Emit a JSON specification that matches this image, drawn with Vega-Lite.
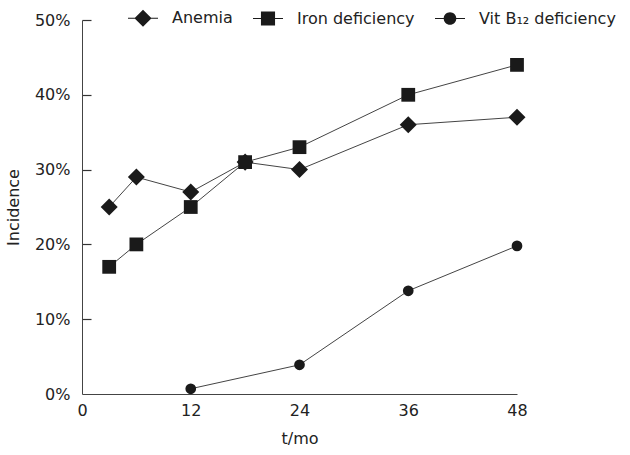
{
  "$schema": "https://vega.github.io/schema/vega-lite/v6.json",
  "width": 435,
  "height": 374,
  "autosize": {"type": "none"},
  "padding": {"left": 82, "top": 20, "right": 113, "bottom": 61},
  "background": "white",
  "config": {
    "view": {"stroke": null},
    "font": "DejaVu Sans",
    "axis": {"grid": false, "labelFont": "DejaVu Sans", "titleFont": "DejaVu Sans", "labelFontSize": 16, "titleFontSize": 16, "titleFontWeight": "normal", "labelColor": "#222", "titleColor": "#222", "domainColor": "#444", "tickColor": "#333", "tickWidth": 1}
  },
  "data": {
    "values": [
      {"series": "Anemia", "t": 3, "v": 0.25},
      {"series": "Anemia", "t": 6, "v": 0.29},
      {"series": "Anemia", "t": 12, "v": 0.27},
      {"series": "Anemia", "t": 18, "v": 0.31},
      {"series": "Anemia", "t": 24, "v": 0.30},
      {"series": "Anemia", "t": 36, "v": 0.36},
      {"series": "Anemia", "t": 48, "v": 0.37},
      {"series": "Iron deficiency", "t": 3, "v": 0.17},
      {"series": "Iron deficiency", "t": 6, "v": 0.20},
      {"series": "Iron deficiency", "t": 12, "v": 0.25},
      {"series": "Iron deficiency", "t": 18, "v": 0.31},
      {"series": "Iron deficiency", "t": 24, "v": 0.33},
      {"series": "Iron deficiency", "t": 36, "v": 0.40},
      {"series": "Iron deficiency", "t": 48, "v": 0.44},
      {"series": "Vit B₁₂ deficiency", "t": 12, "v": 0.007},
      {"series": "Vit B₁₂ deficiency", "t": 24, "v": 0.039},
      {"series": "Vit B₁₂ deficiency", "t": 36, "v": 0.138},
      {"series": "Vit B₁₂ deficiency", "t": 48, "v": 0.198}
    ]
  },
  "encoding": {
    "x": {"field": "t", "type": "quantitative", "scale": {"domain": [0, 48], "nice": false},
      "axis": {"values": [0, 12, 24, 36, 48], "title": "t/mo", "ticks": false, "labelPadding": 8, "titlePadding": 12, "labelFlush": false}}
  },
  "resolve": {"scale": {"y": "independent"}, "axis": {"y": "independent"}},
  "layer": [
    {
      "mark": {"type": "line", "color": "#444", "strokeWidth": 1},
      "encoding": {
        "detail": {"field": "series"},
        "y": {"field": "v", "type": "quantitative", "scale": {"domain": [0, 0.5], "nice": false, "zero": true},
          "axis": {"orient": "right", "offset": -435, "values": [0.1, 0.2, 0.3, 0.4, 0.5], "labels": false, "domain": false, "title": null, "ticks": true, "tickSize": 9, "tickColor": "#333", "tickWidth": 1.2}}
      }
    },
    {
      "mark": {"type": "point", "filled": true, "opacity": 1, "color": "#1a1a1a"},
      "encoding": {
        "y": {"field": "v", "type": "quantitative", "scale": {"domain": [0, 0.5], "nice": false, "zero": true},
          "axis": {"orient": "left", "values": [0, 0.1, 0.2, 0.3, 0.4, 0.5], "format": ".0%", "title": "Incidence", "ticks": false, "labelPadding": 12, "titlePadding": 13, "labelFlush": false}},
        "shape": {"condition": [{"test": "datum.series === 'Anemia'", "value": "diamond"}, {"test": "datum.series === 'Iron deficiency'", "value": "square"}], "value": "circle"},
        "size": {"condition": [{"test": "datum.series === 'Anemia'", "value": 290}, {"test": "datum.series === 'Iron deficiency'", "value": 190}], "value": 115}
      }
    },
    {
      "mark": {"type": "point", "filled": true, "opacity": 0, "color": "#1a1a1a"},
      "encoding": {
        "y": {"field": "v", "type": "quantitative", "scale": {"domain": [0, 0.5], "nice": false, "zero": true}, "axis": null},
        "shape": {"field": "series", "type": "nominal",
          "scale": {"domain": ["Anemia", "Iron deficiency", "Vit B₁₂ deficiency"], "range": ["M-1,-0.035H1V0.035H-1ZM0,-0.57L0.57,0L0,0.57L-0.57,0Z", "M-1,-0.035H1V0.035H-1ZM-0.47,-0.47H0.47V0.47H-0.47Z", "M-1,-0.035H1V0.035H-1ZM0.42,0A0.42,0.42 0 1,1 -0.42,0A0.42,0.42 0 1,1 0.42,0Z"]},
          "legend": {
            "title": null, "orient": "none", "direction": "horizontal", "legendX": 46, "legendY": -17,
            "symbolSize": 900, "symbolOpacity": 1, "labelFontSize": 16, "labelFont": "DejaVu Sans", "labelColor": "#222", "labelOffset": 14, "columnPadding": 20,
            "symbolFillColor": "#1a1a1a", "symbolStrokeWidth": 0
          }}
      }
    }
  ]
}
